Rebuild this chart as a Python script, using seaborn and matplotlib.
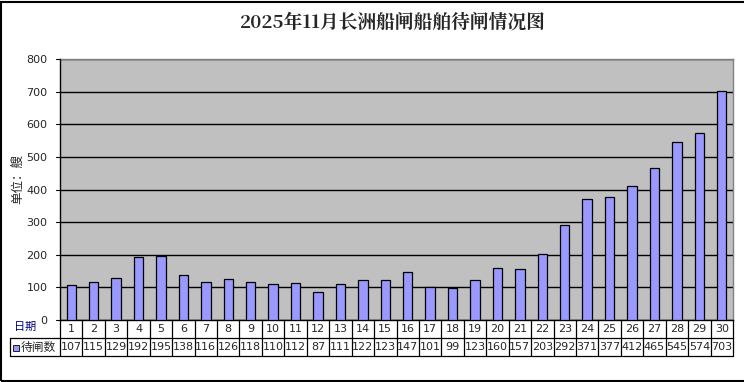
import matplotlib
matplotlib.use("Agg")
import matplotlib.pyplot as plt
import seaborn as sns
import pandas as pd
from matplotlib.patches import Rectangle
from matplotlib.lines import Line2D

days = [str(i) for i in range(1, 31)]
values = [107, 115, 129, 192, 195, 138, 116, 126, 118, 110, 112, 87, 111, 122, 123,
          147, 101, 99, 123, 160, 157, 203, 292, 371, 377, 412, 465, 545, 574, 703]
title = "2025年11月长洲船闸船舶待闸情况图"
ylabel = "单位：艘"
row1_label = "日期"
series_name = "待闸数"
yticks = [0, 100, 200, 300, 400, 500, 600, 700, 800]

sns.set_theme(style="white")
plt.rcParams['font.family'] = ['Noto Sans CJK SC', 'DejaVu Sans']

W, H = 744, 382
fig = plt.figure(figsize=(W / 100, H / 100), dpi=100)
fig.patch.set_facecolor("white")

L, R, T, B = 60, 733, 59, 320
ax = fig.add_axes([L / W, 1 - B / H, (R - L) / W, (B - T) / H])
ax.set_facecolor("#C0C0C0")

df = pd.DataFrame({"day": days, "value": values})
sns.barplot(data=df, x="day", y="value", color="#9999FF", width=0.42,
            edgecolor="black", linewidth=0.9, saturation=1, ax=ax, zorder=3)
ax.set_ylim(0, 800)
ax.set_xlim(-0.5, 29.5)
ax.set_yticks(yticks)
ax.set_yticklabels([str(t) for t in yticks], fontsize=8, family=['DejaVu Sans'])
ax.tick_params(axis='y', length=0, pad=9)
ax.set_xticks([])
ax.set_xlabel("")
ax.set_ylabel("")
ax.yaxis.grid(True, color="black", linewidth=1.0, zorder=1)
ax.set_axisbelow(True)
for s in ["top", "right"]:
    ax.spines[s].set_color("#808080")
    ax.spines[s].set_linewidth(1.0)
for s in ["left", "bottom"]:
    ax.spines[s].set_color("black")
    ax.spines[s].set_linewidth(1.0)

def fx(px):
    return px / W

def fy(py):
    return 1 - py / H

# small tick marks on left axis
for t in yticks:
    yy = B - (B - T) * t / 800
    fig.add_artist(Line2D([fx(L - 4), fx(L)], [fy(yy)] * 2, color="black", lw=0.8))

fig.text(fx(18), fy(179), ylabel, rotation=90, ha="center", va="center", fontsize=9)

fig.text(fx(393), fy(23), title, ha="center", va="center", fontsize=13.5,
         fontweight="bold", family=['Noto Serif CJK SC', 'Noto Sans CJK SC', 'DejaVu Serif'])

# data table
r0, r1, r2 = 320, 338, 356
cw = (R - L) / 30
lw = 0.9
for i in range(31):
    x = L + i * cw
    fig.add_artist(Line2D([fx(x)] * 2, [fy(r0), fy(r2)], color="black", lw=lw))
fig.add_artist(Line2D([fx(L), fx(R)], [fy(r1)] * 2, color="black", lw=lw))
fig.add_artist(Line2D([fx(10), fx(R)], [fy(r2)] * 2, color="black", lw=lw))
fig.add_artist(Line2D([fx(10), fx(L)], [fy(r1)] * 2, color="black", lw=lw))
fig.add_artist(Line2D([fx(10)] * 2, [fy(r1), fy(r2)], color="black", lw=lw))
for i in range(30):
    cx = L + (i + 0.5) * cw
    fig.text(fx(cx), fy((r0 + r1) / 2), days[i], ha="center", va="center", fontsize=8,
             family=['DejaVu Sans'])
    fig.text(fx(cx), fy((r1 + r2) / 2), str(values[i]), ha="center", va="center", fontsize=8,
             family=['DejaVu Sans'])
fig.text(fx(25), fy(327), row1_label, ha="center", va="center", fontsize=8, color="#000080")
fig.add_artist(Rectangle((fx(13), fy(351)), 6 / W, 6 / H, facecolor="#9999FF",
                         edgecolor="black", lw=0.6))
fig.text(fx(21), fy((r1 + r2) / 2), series_name, ha="left", va="center", fontsize=8.5)

# outer border
fig.add_artist(Rectangle((0.5 / W, 1.5 / H), (W + 5) / W, (H - 3) / H, fill=False,
                         edgecolor="black", lw=1.5))

fig.savefig("out.png", dpi=100)
